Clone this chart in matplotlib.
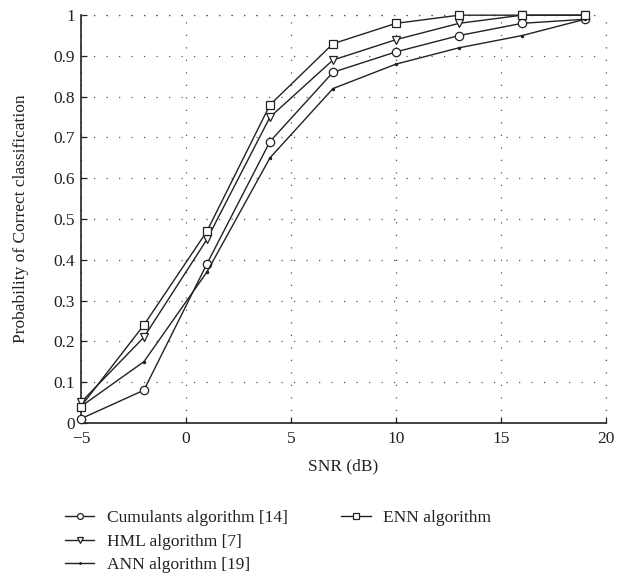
import matplotlib
matplotlib.use("Agg")
import matplotlib.pyplot as plt
from matplotlib.lines import Line2D

plt.rcParams['font.family'] = ['Liberation Serif', 'DejaVu Serif']

snr = [-5, -2, 1, 4, 7, 10, 13, 16, 19]
cumulants = [0.01, 0.08, 0.39, 0.69, 0.86, 0.91, 0.95, 0.98, 0.99]
hml = [0.05, 0.21, 0.45, 0.75, 0.89, 0.94, 0.98, 1.0, 1.0]
ann = [0.04, 0.15, 0.37, 0.65, 0.82, 0.88, 0.92, 0.95, 0.99]
enn = [0.04, 0.24, 0.47, 0.78, 0.93, 0.98, 1.0, 1.0, 1.0]

labels = ["Cumulants algorithm [14]", "HML algorithm [7]", "ANN algorithm [19]", "ENN algorithm"]
xticks = [-5, 0, 5, 10, 15, 20]
xticklabels = ["\u22125", "0", "5", "10", "15", "20"]
yticks = [0, 0.1, 0.2, 0.3, 0.4, 0.5, 0.6, 0.7, 0.8, 0.9, 1]
yticklabels = ["0", "0.1", "0.2", "0.3", "0.4", "0.5", "0.6", "0.7", "0.8", "0.9", "1"]

fig = plt.figure(figsize=(6.32, 5.84), dpi=100)
ax = fig.add_axes([0.128, 0.276, 0.831, 0.698])

c = '#222222'
kw = dict(color=c, lw=1.0, mfc='white', mec=c, mew=0.9, zorder=3, clip_on=False)
h1, = ax.plot(snr, cumulants, marker='o', ms=6, label=labels[0], **kw)
h2, = ax.plot(snr, hml, marker='v', ms=6, label=labels[1], **kw)
h3, = ax.plot(snr, ann, marker='.', ms=3, label=labels[2], color=c, lw=1.0, zorder=3, clip_on=False)
h4, = ax.plot(snr, enn, marker='s', ms=5.2, label=labels[3], **kw)

ax.set_xlim(-5, 20)
ax.set_ylim(0, 1)
ax.set_xticks(xticks)
ax.set_xticklabels(xticklabels)
ax.set_yticks(yticks)
ax.set_yticklabels(yticklabels)
ax.tick_params(direction='in', length=4, width=0.9, labelsize=12.5, colors=c, pad=4)
ax.tick_params(axis='x', pad=6)
for s in ['top', 'right']:
    ax.spines[s].set_visible(False)
for s in ['left', 'bottom']:
    ax.spines[s].set_linewidth(1.2)
    ax.spines[s].set_color(c)
ax.grid(True, color='#555555', lw=0.9, linestyle=(0, (1, 9)))
ax.axhline(1, color='#555555', lw=0.9, linestyle=(0, (1, 9)), clip_on=False)
ax.axvline(20, color='#555555', lw=0.9, linestyle=(0, (1, 9)), clip_on=False)

ax.set_xlabel("SNR (dB)", fontsize=12.5, color=c, labelpad=8)
ax.set_ylabel("Probability of Correct classification", fontsize=12.5, color=c, labelpad=18)

blank = Line2D([], [], linestyle='none', marker=None)
leg = fig.legend([h1, h2, h3, h4, blank, blank], labels + ["", ""], ncol=2,
                 loc='upper left', bbox_to_anchor=(0.089, 0.141), frameon=False,
                 fontsize=12.5, handlelength=1.7, handletextpad=0.7,
                 columnspacing=3.1, labelspacing=0.42, borderpad=0)
for t in leg.get_texts():
    t.set_color(c)
for lh in leg.legend_handles:
    try:
        lh.set_markersize(lh.get_markersize() * 0.7)
    except Exception:
        pass

fig.savefig("out.png", dpi=100)
